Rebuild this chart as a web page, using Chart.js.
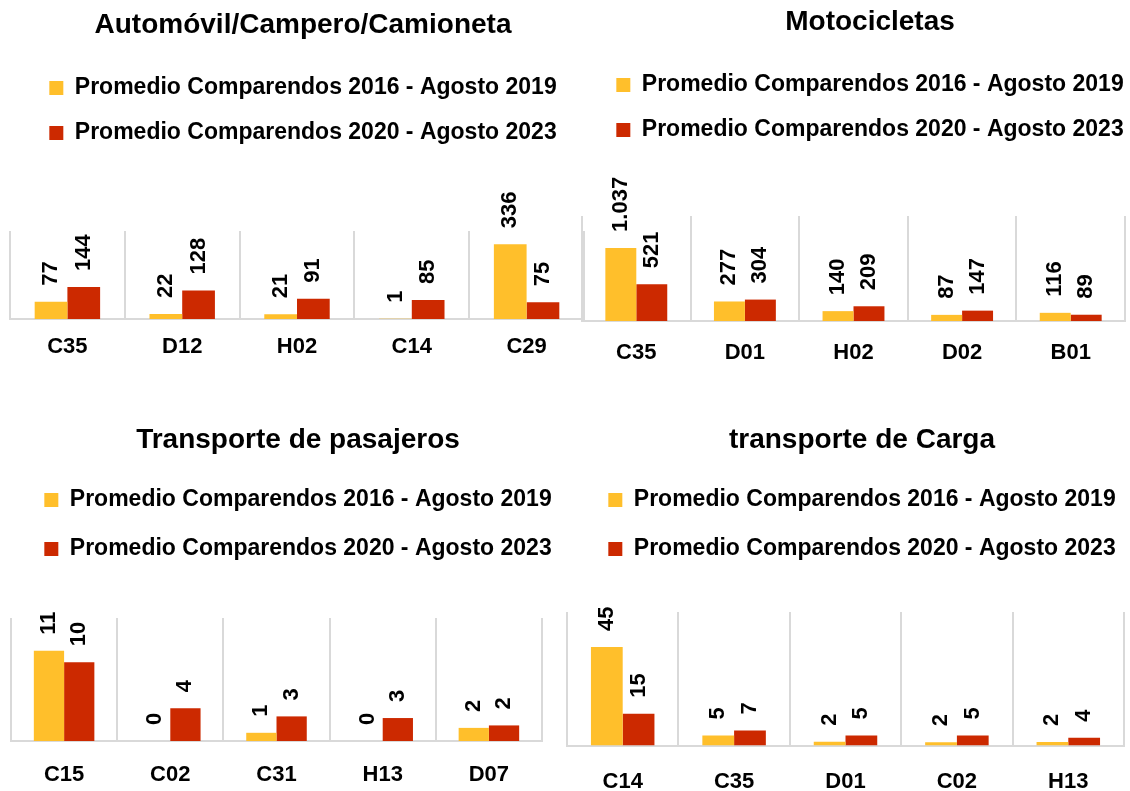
<!DOCTYPE html>
<html>
<head>
<meta charset="utf-8">
<script src="https://cdn.jsdelivr.net/npm/chart.js@4.4.1/dist/chart.umd.min.js"></script>
<style>
  html, body { margin: 0; padding: 0; background: #fff; overflow: hidden; }
  #wrap { position: relative; width: 1130px; height: 791px; overflow: hidden; }
  canvas { position: absolute; }
</style>
</head>
<body>
<div id="wrap">
  <canvas id="ch_auto" width="600" height="395" style="left:0;top:0"></canvas>
  <canvas id="ch_moto" width="586" height="395" style="left:572px;top:0"></canvas>
  <canvas id="ch_pasaj" width="590" height="418" style="left:0;top:395px"></canvas>
  <canvas id="ch_carga" width="600" height="423" style="left:557px;top:395px"></canvas>
</div>
<script>
// series names
const SERIES_A = 'Promedio Comparendos 2016 - Agosto 2019';
const SERIES_B = 'Promedio Comparendos 2020 - Agosto 2023';

// Automóvil/Campero/Camioneta
const autoCats = ['C35', 'D12', 'H02', 'C14', 'C29'];
const autoA    = [77, 22, 21, 1, 336];
const autoB    = [144, 128, 91, 85, 75];

// Motocicletas
const motoCats = ['C35', 'D01', 'H02', 'D02', 'B01'];
const motoA    = [1037, 277, 140, 87, 116];
const motoB    = [521, 304, 209, 147, 89];

// Transporte de pasajeros
const pasajCats = ['C15', 'C02', 'C31', 'H13', 'D07'];
const pasajA    = [11, 0, 1, 0, 1.6];
const pasajB    = [9.6, 4, 3, 2.8, 1.9];

// transporte de Carga
const cargaCats = ['C14', 'C35', 'D01', 'C02', 'H13'];
const cargaA    = [45, 4.6, 1.8, 1.5, 1.6];
const cargaB    = [14.5, 6.9, 4.6, 4.6, 3.6];

const YELLOW = '#FFBF2B';
const RED    = '#CC2900';
const GRID   = '#d9d9d9';
const FONT   = "'Liberation Sans', Arial, sans-serif";

Chart.defaults.font.family = FONT;
Chart.defaults.color = '#000';

// 1037 -> "1.037"
function fmtNum(v) {
  return String(Math.round(v)).replace(/\B(?=(\d{3})+(?!\d))/g, '.');
}

// rotated value labels above each bar
const barLabels = {
  id: 'barLabels',
  afterDatasetsDraw(chart) {
    const ctx = chart.ctx;
    ctx.save();
    ctx.font = 'bold 22px ' + FONT;
    ctx.fillStyle = '#000';
    ctx.textAlign = 'left';
    ctx.textBaseline = 'middle';
    chart.data.datasets.forEach((ds, i) => {
      chart.getDatasetMeta(i).data.forEach((bar, j) => {
        ctx.save();
        ctx.translate(bar.x, bar.y - 16);
        ctx.rotate(-Math.PI / 2);
        ctx.fillText(fmtNum(ds.data[j]), 0, 0);
        ctx.restore();
      });
    });
    ctx.restore();
  }
};

function makeChart(id, title, cats, a, b, o) {
  const n = cats.length;
  return new Chart(document.getElementById(id), {
    type: 'bar',
    data: {
      labels: cats,
      datasets: [
        { label: SERIES_A, data: a, backgroundColor: YELLOW, borderWidth: 0 },
        { label: SERIES_B, data: b, backgroundColor: RED, borderWidth: 0 }
      ]
    },
    options: {
      responsive: false,
      animation: false,
      layout: { padding: o.padding },
      datasets: { bar: { categoryPercentage: 0.57, barPercentage: 1 } },
      scales: {
        x: {
          grid: {
            offset: true, lineWidth: 2, drawTicks: false,
            // right edge line is hidden where the next chart's edge sits on it
            color: c => (o.hideLast && c.index === n) ? 'rgba(0,0,0,0)' : GRID
          },
          border: { color: GRID, width: 2 },
          ticks: { padding: o.tickPad, font: { size: 22, weight: 'bold' }, color: '#000' }
        },
        y: {
          position: 'right',
          min: 0, max: o.max,
          grid: { display: false },
          border: { display: false },
          ticks: { display: false },
          afterFit(scale) { scale.width = o.shift; }   // nudges title/legend right of the plot centre
        }
      },
      plugins: {
        title: {
          display: true, text: title, color: '#000',
          font: { size: 28, weight: 'bold' },
          padding: o.titlePad
        },
        legend: {
          position: 'top',
          labels: {
            boxWidth: 14, boxHeight: 14, padding: o.legendPad, color: '#000',
            font: { size: 23, weight: 'bold' }
          }
        },
        // empty subtitle used as a spacer between legend and plot
        subtitle: {
          display: true, text: '', weight: 500,
          font: { size: 1 }, padding: { top: o.gap, bottom: 0 }
        },
        tooltip: { enabled: false }
      }
    },
    plugins: [barLabels]
  });
}

makeChart('ch_auto', 'Automóvil/Campero/Camioneta', autoCats, autoA, autoB, {
  max: 395, shift: 12, tickPad: 15, legendPad: 22, gap: 75.3, hideLast: true,
  titlePad: { top: 8.2, bottom: 12.7 },
  padding: { left: 10, right: 4, top: 0, bottom: 19.6 }
});
makeChart('ch_moto', 'Motocicletas', motoCats, motoA, motoB, {
  max: 1490, shift: 33, tickPad: 19, legendPad: 22, gap: 63.3,
  titlePad: { top: 5.2, bottom: 12.7 },
  padding: { left: 10, right: 0, top: 0, bottom: 9.6 }
});
makeChart('ch_pasaj', 'Transporte de pasajeros', pasajCats, pasajA, pasajB, {
  max: 15, shift: 43, tickPad: 21, legendPad: 26, gap: 46.3,
  titlePad: { top: 28.2, bottom: 5.7 },
  padding: { left: 11, right: 5, top: 0, bottom: 3.6 }
});
makeChart('ch_carga', 'transporte de Carga', cargaCats, cargaA, cargaB, {
  max: 61, shift: 33, tickPad: 23, legendPad: 26, gap: 40.3,
  titlePad: { top: 28.2, bottom: 5.7 },
  padding: { left: 10, right: 0, top: 0, bottom: 0 }
});
</script>
</body>
</html>
